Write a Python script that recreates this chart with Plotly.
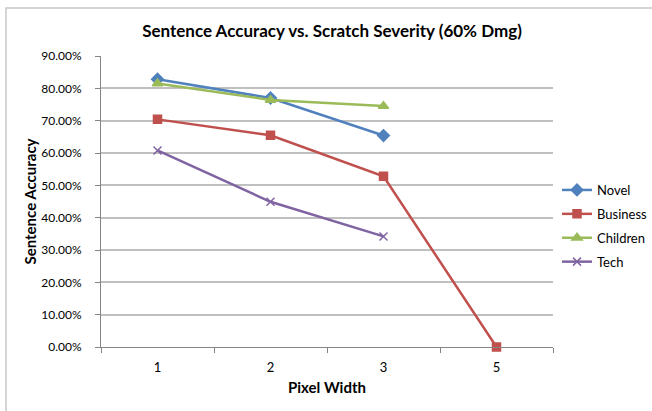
import plotly.graph_objects as go

# Pixel width categories (x axis) and sentence accuracy per text genre
pixel_widths = ["1", "2", "3", "5"]
novel = [0.828, 0.770, 0.654]
business = [0.704, 0.655, 0.528, 0.0]
children = [0.815, 0.764, 0.745]
tech = [0.608, 0.449, 0.342]

W, H = 652, 411
L, R, T, B = 101, 99, 56, 64
plot_w = W - L - R
plot_h = H - T - B

def px_x(p):
    return (p - L) / plot_w

def px_y(p):
    return (H - B - p) / plot_h

font_family = "Lato, 'Open Sans', sans-serif"

series = [
    ("Novel", novel, "#4F81BD", "diamond", 9),
    ("Business", business, "#C0504D", "square", 8),
    ("Children", children, "#9BBB59", "triangle-up", 9),
    ("Tech", tech, "#8064A2", "x-thin-open", 8),
]

fig = go.Figure()
for name, vals, color, sym, size in series:
    fig.add_trace(go.Scatter(
        x=pixel_widths[:len(vals)],
        y=vals,
        name=name,
        legendgroup=name,
        mode="lines+markers",
        line=dict(color=color, width=2.5),
        marker=dict(symbol=sym, size=size, color=color,
                    line=dict(color=color, width=1.5)),
        cliponaxis=False,
    ))

fig.update_layout(
    width=W, height=H,
    margin=dict(l=L, r=R, t=T, b=B, autoexpand=False),
    paper_bgcolor="white",
    plot_bgcolor="white",
    font=dict(family=font_family, size=13, color="#000000"),
    title=dict(
        text="<b>Sentence Accuracy vs. Scratch Severity (60% Dmg)</b>",
        x=px_x(332), xref="paper", xanchor="center",
        y=1 - 31 / H, yref="container", yanchor="middle",
        font=dict(size=17, family=font_family),
    ),
    legend=dict(
        x=px_x(557), y=px_y(175), xanchor="left", yanchor="top",
        font=dict(size=13, family=font_family),
        itemwidth=30, traceorder="grouped", tracegroupgap=4,
        bgcolor="rgba(0,0,0,0)",
    ),
    showlegend=True,
)

fig.update_xaxes(
    type="category",
    categoryorder="array", categoryarray=pixel_widths,
    range=[-0.5, 3.5],
    tickson="boundaries",
    ticks="outside", ticklen=5, tickcolor="#868686",
    ticklabelstandoff=8,
    showline=True, linecolor="#868686", linewidth=1,
    showgrid=False,
    title=dict(text="<b>Pixel Width</b>", font=dict(size=15), standoff=8),
    tickfont=dict(size=13),
)

fig.update_yaxes(
    range=[0, 0.9], dtick=0.1, tickformat=".2%",
    ticks="outside", ticklen=5, tickcolor="#868686",
    ticklabelstandoff=11,
    showline=True, linecolor="#868686", linewidth=1,
    showgrid=True, gridcolor="#C0C0C0", gridwidth=1.5,
    zeroline=False,
    title=dict(text="<b>Sentence Accuracy</b>", font=dict(size=15), standoff=1),
    tickfont=dict(size=12),
)

# Outer chart frame
fig.add_shape(
    type="rect", xref="paper", yref="paper",
    x0=px_x(6), x1=px_x(W + 20), y0=px_y(H + 20), y1=px_y(8),
    line=dict(color="#C8C8C8", width=1.5), layer="below",
)

fig.write_html("out.html")
